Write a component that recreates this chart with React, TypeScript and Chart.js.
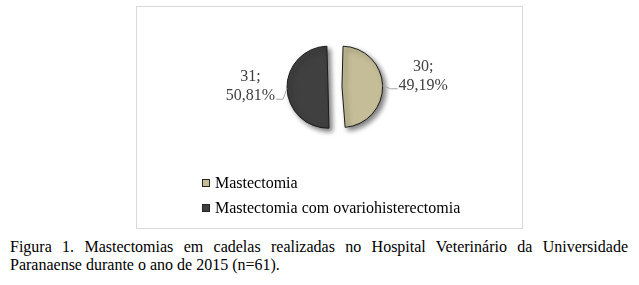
import React, { useEffect, useRef } from 'react';
import { Chart, registerables } from 'chart.js';

Chart.register(...registerables);

// ---- data ----
const CATEGORIES = ['Mastectomia', 'Mastectomia com ovariohisterectomia'];
const COUNTS = [30, 31];
const PERCENT_LABELS = ['49,19%', '50,81%'];
const COLORS = ['#C4BD97', '#404040'];
const CAPTION =
  'Figura 1. Mastectomias em cadelas realizadas no Hospital Veterinário da Universidade Paranaense durante o ano de 2015 (n=61).';

// ---- style ----
const FONT = '"Liberation Serif", "Times New Roman", Times, serif';
const LEADER_STYLE = [
  { dx: 8, dy: 3 },
  { dx: 4, dy: 11 },
];

const shadowAndLabels = {
  id: 'shadowAndLabels',
  beforeDatasetsDraw(chart: any) {
    const ctx = chart.ctx;
    ctx.save();
    ctx.shadowColor = 'rgba(0,0,0,0.5)';
    ctx.shadowBlur = 5;
    ctx.shadowOffsetX = 3;
    ctx.shadowOffsetY = 3;
  },
  afterDatasetsDraw(chart: any) {
    const ctx = chart.ctx;
    ctx.restore();
    const meta = chart.getDatasetMeta(0);
    meta.data.forEach((arc: any, i: number) => {
      const { x, y, startAngle, endAngle, outerRadius, circumference } = arc.getProps(
        ['x', 'y', 'startAngle', 'endAngle', 'outerRadius', 'circumference'],
        true
      );
      const off = (arc.options.offset || 0) / 4;
      const mid = (startAngle + endAngle) / 2;
      const fix = 1 - Math.sin(Math.min(Math.PI, circumference));
      const r = outerRadius + off * fix;
      const cx = x + Math.cos(mid) * off;
      const cy = y + Math.sin(mid) * off;
      const ax = cx + Math.cos(mid) * r;
      const ay = cy + Math.sin(mid) * r;
      const side = Math.cos(mid) >= 0 ? 1 : -1;
      const bx = ax + side * LEADER_STYLE[i].dx;
      const by = ay + LEADER_STYLE[i].dy;
      const ex = bx + side * 7;
      ctx.save();
      ctx.strokeStyle = '#A6A6A6';
      ctx.lineWidth = 1;
      ctx.beginPath();
      ctx.moveTo(ax, ay);
      ctx.lineTo(bx, by);
      ctx.lineTo(ex, by);
      ctx.stroke();
      const lines = [`${chart.data.datasets[0].data[i]};`, PERCENT_LABELS[i]];
      ctx.font = `16px ${FONT}`;
      ctx.fillStyle = '#404040';
      ctx.textAlign = 'center';
      ctx.textBaseline = 'alphabetic';
      const w = Math.max(...lines.map((l) => ctx.measureText(l).width));
      const blockCx = ex + side * (1 + w / 2);
      const baseY = by + 1;
      lines.forEach((l, k) => ctx.fillText(l, blockCx, baseY - (lines.length - 1 - k) * 19));
      ctx.restore();
    });
  },
};

const boxLegend = {
  id: 'boxLegend',
  afterDraw(chart: any) {
    const ctx = chart.ctx;
    const ds = chart.data.datasets[0];
    const top = chart.chartArea.bottom + 12;
    const left = 65;
    ctx.save();
    ctx.font = `16px ${FONT}`;
    ctx.textAlign = 'left';
    ctx.textBaseline = 'alphabetic';
    chart.data.labels.forEach((lab: string, i: number) => {
      const y = top + i * 25;
      ctx.fillStyle = ds.backgroundColor[i];
      ctx.fillRect(left, y, 8, 8);
      ctx.strokeStyle = '#262626';
      ctx.lineWidth = 1;
      ctx.strokeRect(left + 0.5, y + 0.5, 7, 7);
      ctx.fillStyle = '#000000';
      ctx.fillText(lab, left + 13, y + 9);
    });
    ctx.restore();
  },
};

export default function App() {
  const ref = useRef<HTMLCanvasElement>(null);
  useEffect(() => {
    const chart = new Chart(ref.current as HTMLCanvasElement, {
      type: 'pie',
      data: {
        labels: CATEGORIES,
        datasets: [
          {
            data: COUNTS,
            backgroundColor: COLORS,
            borderColor: '#1a1a1a',
            borderWidth: 1,
            offset: 28,
            hoverOffset: 0,
            radius: 34,
          } as any,
        ],
      },
      options: {
        animation: false,
        responsive: false,
        events: [],
        layout: { padding: { left: 11, right: 0, top: 0, bottom: 61 } },
        plugins: { legend: { display: false }, tooltip: { enabled: false } },
      },
      plugins: [shadowAndLabels, boxLegend],
    });
    return () => chart.destroy();
  }, []);

  return (
    <div style={{ position: 'absolute', left: 0, top: 0, width: 639, height: 285, background: '#fff' }}>
      <div
        style={{
          position: 'absolute',
          left: 136,
          top: 6,
          width: 387,
          height: 223,
          border: '1px solid #D9D9D9',
          boxSizing: 'border-box',
        }}
      >
        <canvas ref={ref} width={385} height={221} style={{ display: 'block', width: 385, height: 221 }} />
      </div>
      <p
        style={{
          position: 'absolute',
          left: 10,
          top: 238,
          width: 618,
          margin: 0,
          fontFamily: FONT,
          fontSize: 16,
          lineHeight: '18px',
          textAlign: 'justify',
          color: '#000',
        }}
      >
        {CAPTION}
      </p>
    </div>
  );
}
